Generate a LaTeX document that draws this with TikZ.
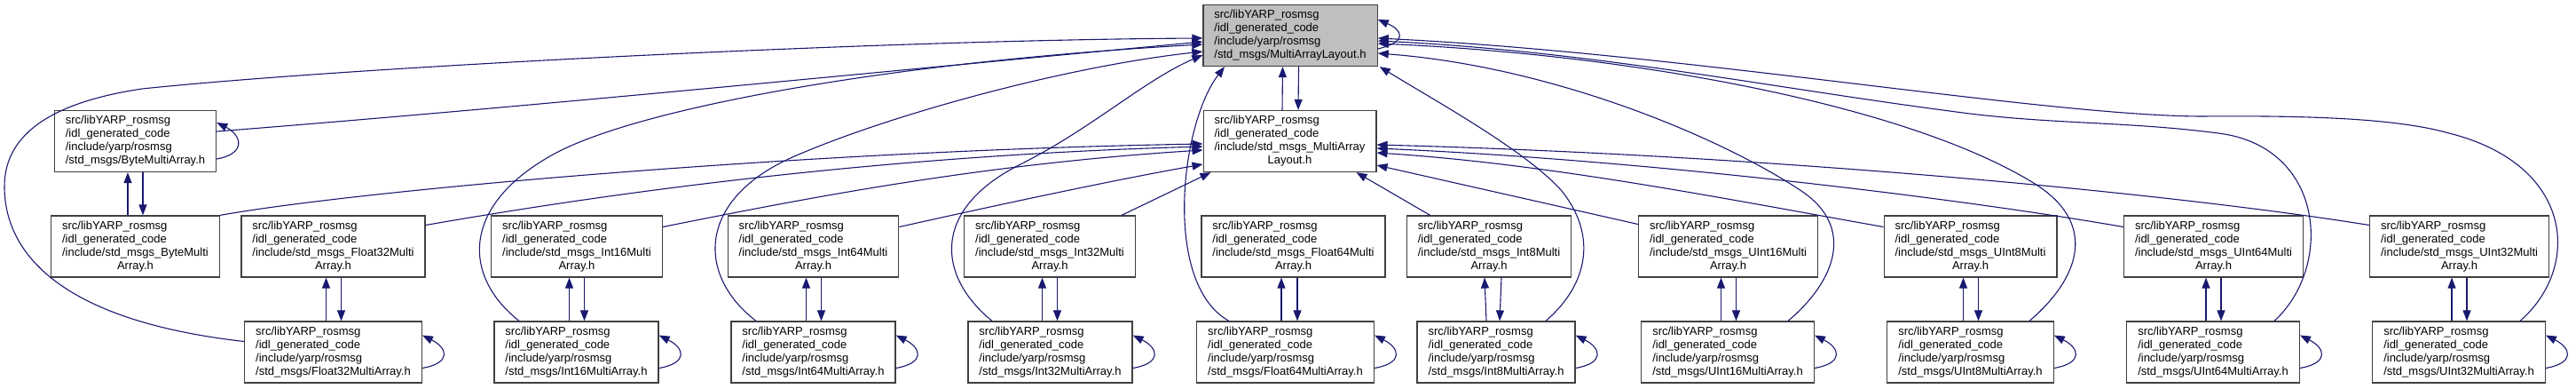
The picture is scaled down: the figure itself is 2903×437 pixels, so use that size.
\documentclass[tikz,border=0pt]{standalone}
\usepackage{fontspec}
\setmainfont{Liberation Sans}
\usepackage{tikz}
\usetikzlibrary{arrows.meta}
\definecolor{edgeblue}{HTML}{191970}
\definecolor{boxline}{HTML}{404040}
\definecolor{rootfill}{HTML}{BFBFBF}
\newcommand{\stdfile}[2]{\begin{tabular}{@{}l@{}}src/libYARP\_rosmsg\\/idl\_generated\_code\\/include/std\_msgs\_#1\\\multicolumn{1}{@{}c@{}}{#2}\end{tabular}}
\newcommand{\yarpfile}[1]{\begin{tabular}{@{}l@{}}src/libYARP\_rosmsg\\/idl\_generated\_code\\/include/yarp/rosmsg\\/std\_msgs/#1.h\end{tabular}}

\begin{document}
\begin{tikzpicture}[x=1pt,y=-1pt,
    file/.style={draw=boxline,line width=1.2pt,fill=white,inner xsep=12.5pt,inner ysep=0pt,minimum height=69pt,font=\fontsize{13}{15}\selectfont},
    rootfile/.style={file,fill=rootfill},
    dep/.style={draw=edgeblue,line width=1.1pt,-{Triangle[length=12pt,width=9pt]}}]
  \useasboundingbox (0,0) rectangle (2903,437);
  \node[rootfile] (root) at (1454,40) {\yarpfile{MultiArrayLayout}};
  \node[file] (layout) at (1453.5,159) {\stdfile{MultiArray}{Layout.h}};
  \node[file] (ybyte) at (152.5,159) {\yarpfile{ByteMultiArray}};
  \foreach \nm/\cx/\lbl in {byte/152.5/Byte,f32/375.5/Float32,i16/650/Int16,i64/916.5/Int64,i32/1183/Int32,f64/1457.5/Float64,i8/1678/Int8,u16/1947.5/UInt16,u8/2220.5/UInt8,u64/2494.5/UInt64,u32/2771.5/UInt32}
    \node[file] (s\nm) at (\cx,277.5) {\stdfile{\lbl Multi}{Array.h}};
  \foreach \nm/\cx/\lbl in {f32/375.5/Float32,i16/649.5/Int16,i64/916.5/Int64,i32/1183.5/Int32,f64/1448.5/Float64,i8/1686/Int8,u16/1947/UInt16,u8/2220.5/UInt8,u64/2494/UInt64,u32/2771/UInt32}
    \node[file] (y\nm) at (\cx,396.5) {\yarpfile{\lbl MultiArray}};

  \draw[dep] ([xshift=-8.5pt]layout.north) -- ([xshift=-8.5pt]root.south);
  \draw[dep] ([xshift=9.5pt]root.south) -- ([xshift=9.5pt]layout.north);
  \draw[dep] ([xshift=-8.5pt]sbyte.north) -- ([xshift=-8.5pt]ybyte.south);
  \draw[dep] ([xshift=8.5pt]ybyte.south) -- ([xshift=8.5pt]sbyte.north);
  \draw[dep] ([yshift=-15pt]root.east) .. controls ([xshift=34pt,yshift=-7pt]root.east) and ([xshift=28pt,yshift=6pt]root.east) .. ([yshift=18pt]root.east);
  \draw[dep] ([yshift=-20pt]ybyte.east) .. controls ([xshift=34pt,yshift=-14pt]ybyte.east) and ([xshift=28pt,yshift=7pt]ybyte.east) .. ([yshift=21pt]ybyte.east);
  \foreach \nm/\su/\sd/\yu/\yd in {f32/-8/9/-8/9,i16/-8.5/8.5/-8/9,i64/-8/9/-8/9,i32/-8.5/8.5/-9/8,f64/-13.5/4.5/-4.5/13.5,i8/-5/14/-11/4,u16/-8/9/-7.5/9.5,u8/-8/9/-8/9,u64/-8.5/8.5/-8/9,u32/-8.5/8.5/-8/9} {
    \draw[dep] ([xshift=\yu pt]y\nm.north) -- ([xshift=\su pt]s\nm.south);
    \draw[dep] ([xshift=\sd pt]s\nm.south) -- ([xshift=\yd pt]y\nm.north);
    \draw[dep] ([yshift=-18pt]y\nm.east) .. controls ([xshift=34pt,yshift=-12pt]y\nm.east) and ([xshift=28pt,yshift=5pt]y\nm.east) .. ([yshift=19pt]y\nm.east);
  }

  % into the root, left side
  \draw[dep] ([yshift=12pt]yf32.west) .. controls (60,360) and (5,280) .. (5,210) .. controls (5,150) and (60,115) .. (160,100) .. controls (400,75) and (1000,45) .. ([yshift=-3pt]root.west);
  \draw[dep] ([yshift=11pt]ybyte.east) .. controls (600,120) and (1000,80) .. ([yshift=-7pt]root.west);
  \draw[dep] ([xshift=-64.5pt]yi16.north) .. controls (520,310) and (520,230) .. (625,173) .. controls (720,122) and (1000,70) .. ([yshift=-10pt]root.west);
  \draw[dep] ([xshift=-64.5pt]yi64.north) .. controls (785,310) and (785,225) .. (893,177) .. controls (1000,130) and (1200,75) .. ([yshift=-18pt]root.west);
  \draw[dep] ([xshift=-65.5pt]yi32.north) .. controls (1055,310) and (1050,235) .. (1150,185) .. controls (1230,145) and (1290,90) .. ([yshift=-22pt]root.west);
  \draw[dep] ([xshift=-63.5pt]yf64.north) .. controls (1310,320) and (1330,140) .. ([xshift=-74pt]root.south);
  % into the root, right side
  \draw[dep] ([xshift=56pt]yi8.north) .. controls (1790,320) and (1800,265) .. (1760,215) .. controls (1720,170) and (1620,115) .. ([xshift=2pt]root.south east);
  \draw[dep] ([xshift=68pt]yu16.north) .. controls (2070,315) and (2090,255) .. (2030,215) .. controls (1940,155) and (1750,75) .. ([yshift=-20pt]root.east);
  \draw[dep] ([xshift=66.5pt]yu8.north) .. controls (2345,312) and (2365,250) .. (2290,205) .. controls (2150,120) and (1850,62) .. ([yshift=-9pt]root.east);
  \draw[dep] ([xshift=69pt]yu64.north) .. controls (2630,300) and (2620,165) .. (2500,150) .. controls (2400,137) and (2320,140) .. (2220,128) .. controls (2000,100) and (1800,58) .. ([yshift=-6pt]root.east);
  \draw[dep] ([xshift=69pt]yu32.north) .. controls (2910,300) and (2900,185) .. (2760,150) .. controls (2700,133) and (2600,130) .. (2480,131) .. controls (2300,130) and (1900,60) .. ([yshift=-3pt]root.east);

  % into the std_msgs layout header
  \draw[dep] (sbyte.north east) .. controls (400,215) and (900,170) .. ([yshift=-3pt]layout.west);
  \draw[dep] ([yshift=24pt]sf32.east) .. controls (700,215) and (1000,175) .. ([yshift=-6pt]layout.west);
  \draw[dep] ([yshift=22pt]si16.east) .. controls (900,225) and (1100,185) .. ([yshift=-10pt]layout.west);
  \draw[dep] ([yshift=22pt]si64.east) .. controls (1150,225) and (1270,200) .. ([yshift=-26pt]layout.west);
  \draw[dep] ([xshift=-16pt]si32.north east) -- ([xshift=9pt]layout.south west);
  \draw[dep] ([xshift=27pt]si8.north west) -- ([xshift=-23pt]layout.south east);
  \draw[dep] ([yshift=25pt]su16.west) -- ([yshift=-27pt]layout.east);
  \draw[dep] ([yshift=22pt]su8.west) .. controls (1950,225) and (1750,185) .. ([yshift=-13pt]layout.east);
  \draw[dep] ([yshift=22pt]su64.west) .. controls (2200,222) and (1850,180) .. ([yshift=-8pt]layout.east);
  \draw[dep] ([yshift=24pt]su32.west) .. controls (2450,218) and (2000,175) .. ([yshift=-4pt]layout.east);
\end{tikzpicture}
\end{document}
